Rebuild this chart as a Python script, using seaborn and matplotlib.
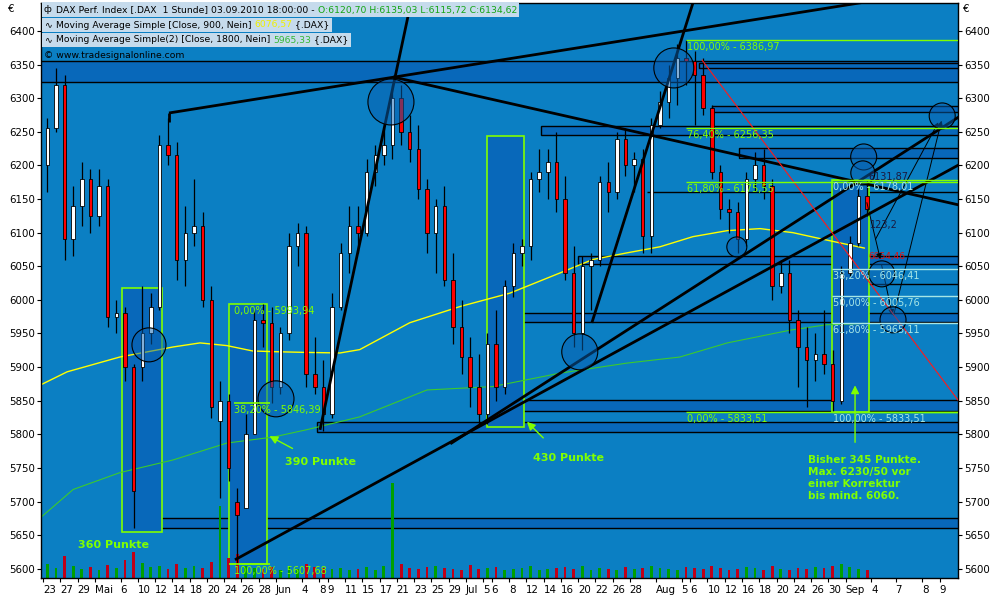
import numpy as np
import pandas as pd
import matplotlib
matplotlib.use("Agg")
import matplotlib.pyplot as plt
import seaborn as sns
from matplotlib.patches import Rectangle, Ellipse

sns.set_theme(style="white")
plt.rcParams["font.family"] = ["DejaVu Sans"]

# ---------------- data (daily OHLC) ----------------
day_open = [6200, 6255, 6320, 6090, 6140, 6180, 6125, 6170, 5975, 5980,
            5900, 5900, 5950, 5990, 6230, 6215, 6060, 6100, 6110, 6000,
            5820, 5850, 5700, 5690, 5800, 5970, 5965, 5870, 5950, 6080,
            6100, 5890, 5870, 5830, 5990, 6070, 6110, 6100, 6190, 6215,
            6230, 6300, 6250, 6225, 6165, 6100, 6140, 6030, 5960, 5915,
            5870, 5830, 5935, 5870, 6020, 6070, 6080, 6180, 6190, 6205,
            6150, 6040, 5950, 6050, 6060, 6175, 6160, 6240, 6200, 6210,
            6095, 6260, 6295, 6330, 6360, 6355, 6335, 6285, 6190, 6135,
            6130, 6090, 6180, 6200, 6170, 6020, 6040, 5970, 5930, 5910,
            5920, 5905, 5850, 6040, 6085, 6155]
day_high = [6270, 6345, 6335, 6170, 6205, 6195, 6195, 6180, 6000, 5990,
            5905, 6020, 6010, 6245, 6270, 6235, 6140, 6180, 6130, 6020,
            5880, 5860, 5720, 5830, 5985, 5994, 5990, 5960, 6100, 6115,
            6110, 5945, 5910, 6010, 6085, 6140, 6140, 6210, 6230, 6255,
            6320, 6320, 6275, 6260, 6180, 6150, 6170, 6070, 6000, 5945,
            5920, 5950, 5985, 6030, 6085, 6090, 6190, 6225, 6225, 6250,
            6185, 6080, 6065, 6070, 6185, 6205, 6250, 6255, 6220, 6225,
            6270, 6310, 6350, 6380, 6387, 6370, 6360, 6290, 6200, 6150,
            6145, 6190, 6220, 6225, 6180, 6060, 6060, 5985, 5960, 5950,
            5985, 5925, 6050, 6095, 6165, 6178]
day_low = [6160, 6250, 6060, 6065, 6110, 6100, 6110, 5960, 5950, 5880,
           5660, 5880, 5935, 5985, 6200, 6030, 6020, 6080, 5990, 5825,
           5705, 5730, 5608, 5690, 5800, 5930, 5846, 5860, 5940, 6050,
           5870, 5860, 5805, 5825, 5985, 6040, 6070, 6095, 6170, 6200,
           6210, 6230, 6205, 6150, 6070, 6040, 6020, 5935, 5890, 5840,
           5815, 5815, 5850, 5860, 6005, 6050, 6060, 6160, 6150, 6130,
           6030, 5930, 5925, 5985, 6050, 6130, 6150, 6185, 6160, 6070,
           6070, 6255, 6270, 6290, 6320, 6260, 6275, 6180, 6120, 6100,
           6070, 6080, 6160, 6150, 6000, 6010, 5950, 5870, 5840, 5880,
           5890, 5834, 5845, 6035, 6080, 6125]
day_close = [6255, 6320, 6090, 6140, 6180, 6125, 6170, 5975, 5980, 5900,
             5715, 5950, 5990, 6230, 6215, 6060, 6100, 6110, 6000, 5840,
             5850, 5750, 5680, 5800, 5970, 5965, 5870, 5950, 6080, 6100,
             5890, 5870, 5830, 5990, 6070, 6110, 6100, 6190, 6215, 6230,
             6300, 6250, 6225, 6165, 6100, 6140, 6030, 5960, 5915, 5870,
             5830, 5935, 5870, 6020, 6070, 6080, 6180, 6190, 6205, 6150,
             6040, 5950, 6050, 6060, 6175, 6160, 6240, 6200, 6210, 6095,
             6260, 6295, 6330, 6360, 6355, 6335, 6285, 6190, 6135, 6130,
             6090, 6180, 6200, 6170, 6020, 6040, 5970, 5930, 5910, 5920,
             5905, 5850, 6040, 6085, 6155, 6135]
volume = [14, 10, 22, 12, 9, 11, 8, 13, 10, 18,
          26, 15, 11, 12, 9, 14, 10, 12, 10, 16,
          72, 20, 24, 12, 10, 9, 11, 8, 12, 9,
          14, 11, 10, 9, 10, 8, 9, 11, 8, 12,
          95, 14, 10, 9, 11, 12, 10, 9, 8, 13,
          9, 10, 11, 8, 9, 10, 12, 8, 9, 10,
          11, 9, 12, 8, 10, 9, 8, 11, 9, 10,
          12, 10, 9, 8, 11, 10, 9, 12, 10, 8,
          9, 11, 10, 8, 12, 9, 8, 10, 9, 11,
          10, 12, 14, 11, 9, 8]

ma900_day = [-0.2, 2.8, 8.9, 15.1, 18.2, 21.3, 24.3, 26.7, 30.0, 34.4, 36.7, 42.5,
             48.3, 54.1, 59.9, 63.7, 67.7, 71.5, 75.3, 79.3, 83.1, 86.9, 90.8, 95.2]
ma900 = [5874, 5893, 5915, 5930, 5936, 5932, 5924, 5923, 5922, 5921, 5926, 5966,
         5990, 6010, 6040, 6060, 6070, 6079, 6094, 6103, 6106, 6100, 6089, 6077]
ma1800_day = [-0.2, 3.5, 8.9, 15.1, 21.3, 26.7, 30.6, 36.7, 44.5, 52.1, 59.9,
              67.7, 73.8, 79.3, 86.6, 90.8, 95.2]
ma1800 = [5677, 5718, 5743, 5762, 5787, 5796, 5807, 5826, 5866, 5871, 5891,
          5906, 5915, 5936, 5955, 5963, 5965]

date_tick_pos = [0, 2, 4, 6, 9, 11, 13, 15, 17, 19, 21, 23, 25, 27, 30, 32, 33, 35,
                 37, 39, 41, 43, 45, 47, 49, 51, 52, 54, 56, 58, 60, 62, 64, 66, 68,
                 71, 74, 75, 77, 79, 81, 83, 85, 87, 89, 91, 93, 96.0, 98.8, 101.9, 103.9]
date_tick_labels = ["23", "27", "29", "Mai", "6", "10", "12", "14", "18", "20", "24",
                    "26", "28", "Jun", "4", "8", "9", "11", "15", "17", "21", "23",
                    "25", "29", "Jul", "5", "6", "8", "12", "14", "16", "20", "22",
                    "26", "28", "Aug", "5", "6", "10", "12", "16", "18", "20", "24",
                    "26", "30", "Sep", "4", "7", "8", "9"]
price_ticks = list(range(5600, 6401, 50))

# ---------------- styling ----------------
BG = "#0B7FC3"
BOX = "#0868BA"
LIME = "#80FF00"
CYAN = "#A6E6E6"
XMIN, XMAX = -0.23, 106.03
YMIN, YMAX = 5586.6, 6441.6

fig = plt.figure(figsize=(10, 6), dpi=100, facecolor="white")
ax = fig.add_axes([0.041, 0.037, 0.917, 0.958])
ax.set_facecolor(BG)

o = np.array(day_open, float)
h = np.array(day_high, float)
l = np.array(day_low, float)
c = np.array(day_close, float)
xd = np.arange(len(c)) + 0.5
up = c >= o

ax.set_xlim(XMIN, XMAX)
ax.set_ylim(YMIN, YMAX)

# horizontal support/resistance boxes
hboxes = [(-0.3, 6324, 6355), (76.0, 6345, 6352), (77.5, 6279.5, 6288.5),
          (57.7, 6245.4, 6258.7), (80.6, 6211, 6226), (62.0, 6053.5, 6065.4),
          (52.0, 5967.3, 5980.7), (51.6, 5835, 5851.3), (31.75, 5803.7, 5818.6),
          (10.43, 5660.9, 5675.8)]
for x0, lo, hi in hboxes:
    ax.add_patch(Rectangle((x0, lo), XMAX + 1 - x0, hi - lo, facecolor=BOX,
                           edgecolor="black", lw=1.0, zorder=1))
ax.hlines([6160.6, 6024], [70, 92.7], XMAX + 1, color="black", lw=1.0, zorder=1)

# green "Punkte" rectangles
for x0, x1, lo, hi in [(9.15, 13.8, 5655, 6017.8), (21.55, 25.96, 5607.68, 5993.94),
                       (51.45, 55.74, 5811.1, 6243.9), (91.4, 95.7, 5833.51, 6178.01)]:
    ax.add_patch(Rectangle((x0, lo), x1 - x0, hi - lo, facecolor=BOX, edgecolor=LIME,
                           lw=1.2, zorder=1.5))

# volume pane at the bottom (height in pixels of the pane, x in data)
vcol = np.where(up, "#00A000", "#C00018")
ax.bar(xd, np.array(volume) / 575.0, bottom=0, width=0.32, color=vcol, linewidth=0,
       transform=ax.get_xaxis_transform(), zorder=1.8)
ax.set_xlim(XMIN, XMAX)
ax.set_ylim(YMIN, YMAX)

# moving averages
sns.lineplot(x=ma900_day, y=ma900, ax=ax, color="#FFFF00", lw=1.0, zorder=2)
sns.lineplot(x=ma1800_day, y=ma1800, ax=ax, color="#3CCB2C", lw=0.8, zorder=2)

# candles
ax.vlines(xd, l, h, color="black", lw=0.9, zorder=3)
ax.bar(xd[up], (c - o)[up], bottom=o[up], width=0.4, color="white",
       edgecolor="black", lw=0.6, zorder=4)
ax.bar(xd[~up], (o - c)[~up], bottom=c[~up], width=0.4, color="#FF0000",
       edgecolor="black", lw=0.6, zorder=4)

# trend lines
trend = [((14.6, 6278), (97.5, 6447.6)), ((14.6, 6278), (14.6, 6264)),
         ((40.56, 6331.6), (106.1, 6141.3)), ((32.1, 5806.7), (42.8, 6452)),
         ((22.25, 5613.4), (106.1, 6200.7)), ((47.2, 5785.9), (106.1, 6272)),
         ((63.6, 5965.8), (75.4, 6445))]
for (x0, y0), (x1, y1) in trend:
    ax.plot([x0, x1], [y0, y1], color="black", lw=2.0, zorder=5, solid_capstyle="butt")

# thin projection lines with arrows
proj = [((95.4, 6148.7), (97.1, 6056.5)), ((97.1, 6056.5), (98.5, 5973.2)),
        ((98.5, 5973.2), (104.2, 6270.6)), ((96.3, 6086.2), (103.9, 6267.7))]
for (x0, y0), (x1, y1) in proj:
    ax.annotate("", xy=(x1, y1), xytext=(x0, y0),
                arrowprops=dict(arrowstyle="-|>", color="black", lw=0.7, mutation_scale=8),
                zorder=5)

# red target line
ax.plot([76.36, 106.1], [6356.9, 5849.8], color="#FF1A1A", lw=0.8, zorder=5)

# circles
circles = [(12.28, 5933.1, 17), (27.0, 5852.8, 18), (40.32, 6294.4, 23), (62.2, 5922.7, 18),
           (73.1, 6345, 20), (95.1, 6212.6, 13), (95.0, 6188.9, 12), (104.2, 6273.6, 13),
           (80.4, 6078.8, 10), (97.2, 6038.7, 13), (98.5, 5970.3, 13)]
for cx, cy, r in circles:
    ax.add_patch(Ellipse((cx, cy), 2 * r / 8.63, 2 * r * 1.487, facecolor="#0860B0",
                         alpha=0.5, edgecolor="none", zorder=5))
    ax.add_patch(Ellipse((cx, cy), 2 * r / 8.63, 2 * r * 1.487, facecolor="none",
                         edgecolor="black", lw=0.8, zorder=5))

# fibonacci levels
fib1 = [("100,00% - 6386,97", 6386.97), ("76,40% - 6256,35", 6256.35),
        ("61,80% - 6175,55", 6175.55), ("0,00% - 5833,51", 5833.51)]
for txt, v in fib1:
    ax.hlines(v, 74.5, XMAX + 1, color=LIME, lw=1.0, zorder=5)
    ax.text(74.6, v - 3, txt, color=LIME, fontsize=7, va="top", ha="left", zorder=6)
fib2 = [("0,00% - 6178,01", 6178.01, LIME), ("38,20% - 6046,41", 6046.41, CYAN),
        ("50,00% - 6005,76", 6005.76, CYAN), ("61,80% - 5965,11", 5965.11, CYAN),
        ("100,00% - 5833,51", 5833.51, LIME)]
for txt, v, col in fib2:
    ax.hlines(v, 91.4, XMAX + 1, color=col, lw=1.0, zorder=5)
    ax.text(91.5, v - 3, txt, color=CYAN, fontsize=7, va="top", ha="left", zorder=6)
fib3 = [("0,00% - 5993,94", 5993.94), ("38,20% - 5846,39", 5846.39),
        ("100,00% - 5607,68", 5607.68)]
ax.hlines([5846.39, 5607.68], [22.1, 21.55], 26.3, color=LIME, lw=1.2, zorder=5)
for txt, v in fib3:
    ax.text(22.1, v - 3, txt, color=LIME, fontsize=7, va="top", ha="left", zorder=6)

ax.text(95.6, 6183, "6131,87", color="#1a1a40", fontsize=7, va="center", ha="left", zorder=6)
ax.text(95.8, 6112, "123,2", color="#1a1a40", fontsize=7, va="center", ha="left", zorder=6)
ax.text(95.7, 6064, "6054,46", color="#E01010", fontsize=6.5, va="center", ha="left", zorder=4.5)

# text notes and arrows
ax.text(8.2, 5636, "360 Punkte", color=LIME, fontsize=8, fontweight="bold",
        ha="center", va="center", zorder=6)
ax.text(28.0, 5759, "390 Punkte", color=LIME, fontsize=8, fontweight="bold",
        ha="left", va="center", zorder=6)
ax.text(56.8, 5765, "430 Punkte", color=LIME, fontsize=8, fontweight="bold",
        ha="left", va="center", zorder=6)
ax.text(88.6, 5770, "Bisher 345 Punkte.\nMax. 6230/50 vor\neiner Korrektur\nbis mind. 6060.",
        color=LIME, fontsize=7.6, fontweight="bold", ha="left", va="top",
        linespacing=1.25, zorder=6)
for (x0, y0), (x1, y1) in [((29.2, 5777), (25.96, 5799.3)), ((58.2, 5791.8), (55.85, 5821.5)),
                           ((94.1, 5784), (94.1, 5877))]:
    ax.annotate("", xy=(x1, y1), xytext=(x0, y0),
                arrowprops=dict(arrowstyle="-|>", color=LIME, lw=1.0, mutation_scale=12),
                zorder=6)

# axes and ticks
ax.set_yticks(price_ticks)
ax.set_yticklabels([str(p) for p in price_ticks])
ax.set_xticks(date_tick_pos)
ax.set_xticklabels(date_tick_labels)
ax.tick_params(axis="y", left=True, right=True, labelleft=True, labelright=True,
               direction="out", length=3, width=0.8, pad=1.5, labelsize=7.4,
               colors="black")
ax.tick_params(axis="x", bottom=True, direction="out", length=3, width=0.8, pad=2,
               labelsize=7.4, colors="black")
plt.setp(ax.get_xticklabels(), ha="left")
ax.grid(False)
for s in ax.spines.values():
    s.set_color("black")
    s.set_linewidth(1.0)
ax.set_xlabel(""); ax.set_ylabel("")

fig.text(8 / 1000, 1 - 9 / 600, "€", fontsize=7.4, color="black", va="center")
fig.text(963 / 1000, 1 - 9 / 600, "€", fontsize=7.4, color="black", va="center")

# header legend rows
renderer = fig.canvas.get_renderer()
rows = [
    (10, "ф", [("DAX Perf. Index [.DAX  1 Stunde] 03.09.2010 18:00:00 - ", "black"),
               ("O:6120,70 H:6135,03 L:6115,72 C:6134,62", "#14A514")]),
    (25, "∿", [("Moving Average Simple [Close, 900, Nein] ", "black"),
               ("6076,57", "#F0F000"), (" {.DAX}", "black")]),
    (40, "∿", [("Moving Average Simple(2) [Close, 1800, Nein] ", "black"),
               ("5965,33", "#33B833"), (" {.DAX}", "black")]),
]
HFS = 6.7
for yc, icon, segs in rows:
    fig.text(44 / 1000, 1 - yc / 600, icon, fontsize=HFS, color="black", va="center",
             ha="left", zorder=12)
    x = 56
    for s, col in segs:
        t = fig.text(x / 1000, 1 - yc / 600, s, fontsize=HFS, color=col, va="center",
                     ha="left", zorder=12)
        bb = t.get_window_extent(renderer=renderer)
        x = bb.x1
    fig.add_artist(Rectangle((42 / 1000, 1 - (yc + 7) / 600), (x + 2 - 42) / 1000, 14.5 / 600,
                             transform=fig.transFigure, facecolor="#C6DBEC",
                             edgecolor="none", zorder=11))
fig.text(44 / 1000, 1 - 55 / 600, "© www.tradesignalonline.com", fontsize=HFS,
         color="black", va="center", ha="left", zorder=12)

fig.savefig("out.png", dpi=100, facecolor="white")
